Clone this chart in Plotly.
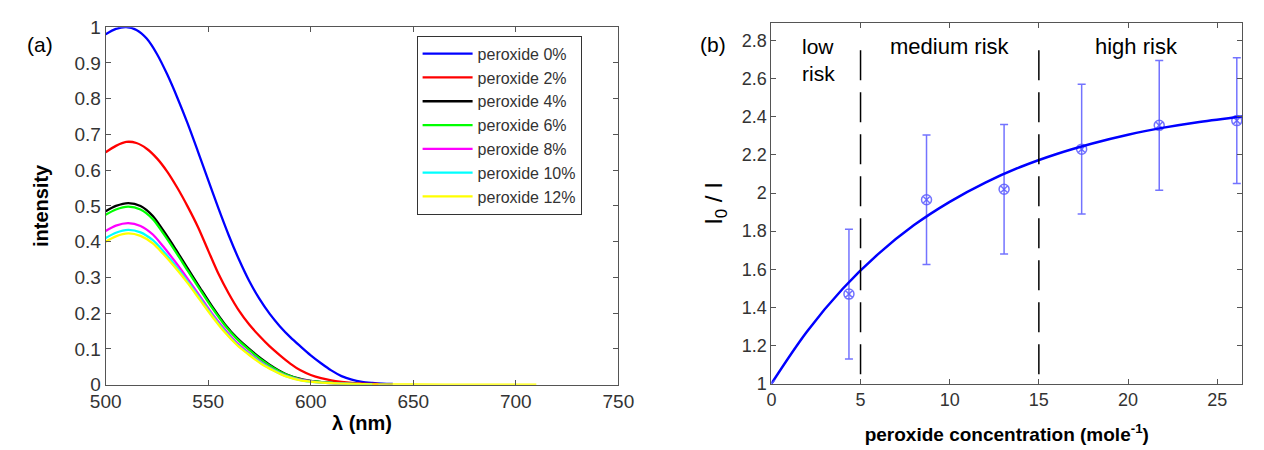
import plotly.graph_objects as go

# ---------------- panel (a) data ----------------
lam_blue = [500, 505, 510, 515, 520, 525, 530, 535, 540, 545, 550, 555, 560, 565, 570, 575, 580, 585, 590, 595, 600, 605, 610, 615, 620, 625, 630, 635, 640]
int_blue = [0.98, 0.995, 1.0, 0.992, 0.968, 0.925, 0.868, 0.802, 0.73, 0.652, 0.572, 0.493, 0.418, 0.35, 0.29, 0.24, 0.198, 0.163, 0.133, 0.107, 0.082, 0.06, 0.04, 0.024, 0.014, 0.008, 0.005, 0.003, 0.002]

lam_red = [500, 505, 510, 515, 520, 525, 530, 535, 540, 545, 550, 555, 560, 565, 570, 575, 580, 585, 590, 595, 600, 605, 610, 615, 620, 625, 633]
int_red = [0.65, 0.668, 0.679, 0.676, 0.66, 0.633, 0.596, 0.55, 0.498, 0.441, 0.375, 0.31, 0.255, 0.207, 0.168, 0.136, 0.107, 0.082, 0.059, 0.04, 0.027, 0.018, 0.012, 0.008, 0.005, 0.003, 0.002]

lam_low = [500, 505, 511, 517, 523, 528, 534, 540, 546, 552, 558, 564, 570, 576, 582, 588, 595, 602, 610, 620, 630]
int_black = [0.485, 0.500, 0.508, 0.500, 0.472, 0.432, 0.380, 0.325, 0.271, 0.218, 0.170, 0.131, 0.100, 0.072, 0.048, 0.029, 0.016, 0.009, 0.005, 0.002, 0.001]
int_green = [0.475, 0.490, 0.498, 0.490, 0.463, 0.424, 0.373, 0.319, 0.266, 0.214, 0.167, 0.128, 0.097, 0.069, 0.046, 0.028, 0.015, 0.009, 0.005, 0.002, 0.001]
int_magenta = [0.430, 0.445, 0.452, 0.444, 0.420, 0.387, 0.343, 0.296, 0.247, 0.198, 0.155, 0.117, 0.088, 0.062, 0.041, 0.025, 0.014, 0.008, 0.004, 0.002, 0.001]
int_cyan = [0.410, 0.425, 0.433, 0.426, 0.404, 0.374, 0.333, 0.288, 0.241, 0.193, 0.150, 0.113, 0.085, 0.060, 0.040, 0.024, 0.013, 0.007, 0.004, 0.002, 0.001]
lam_yellow = [500, 505, 511, 517, 523, 528, 534, 540, 546, 552, 558, 564, 570, 576, 582, 588, 595, 602, 610, 620, 630, 650, 680, 710]
int_yellow = [0.400, 0.415, 0.423, 0.416, 0.395, 0.366, 0.327, 0.284, 0.237, 0.190, 0.147, 0.111, 0.083, 0.058, 0.039, 0.023, 0.012, 0.007, 0.004, 0.002, 0.001, 0.0005, 0.0, 0.0]

series_names = ["peroxide 0%", "peroxide 2%", "peroxide 4%", "peroxide 6%", "peroxide 8%", "peroxide 10%", "peroxide 12%"]
series_colors = ["#0000ff", "#ff0000", "#000000", "#00ff00", "#ff00ff", "#00ffff", "#ffff00"]

a_xticks = [500, 550, 600, 650, 700, 750]
a_yticks = [0, 0.1, 0.2, 0.3, 0.4, 0.5, 0.6, 0.7, 0.8, 0.9, 1]
a_yticktext = ["0", "0.1", "0.2", "0.3", "0.4", "0.5", "0.6", "0.7", "0.8", "0.9", "1"]

# ---------------- panel (b) data ----------------
conc_pts = [4.35, 8.7, 13.05, 17.4, 21.75, 26.1]
ratio_pts = [1.47, 1.965, 2.02, 2.23, 2.355, 2.38]
ratio_err = [0.34, 0.34, 0.34, 0.34, 0.34, 0.33]

conc_fit = [0, 2, 4, 6, 8, 10, 12, 14, 16, 18, 20, 22, 24, 26.4]
ratio_fit = [1.0, 1.274, 1.498, 1.681, 1.832, 1.954, 2.055, 2.138, 2.205, 2.260, 2.306, 2.343, 2.373, 2.402]

risk_bounds = [5, 15]
b_xticks = [0, 5, 10, 15, 20, 25]
b_yticks = [1, 1.2, 1.4, 1.6, 1.8, 2, 2.2, 2.4, 2.6, 2.8]
b_yticktext = ["1", "1.2", "1.4", "1.6", "1.8", "2", "2.2", "2.4", "2.6", "2.8"]

W, H = 1264, 450
FONT = "Liberation Sans, Arial, sans-serif"
TICKCOL = "#333333"
AXCOL = "#555555"

fig = go.Figure()

xs = [lam_blue, lam_red, lam_low, lam_low, lam_low, lam_low, lam_yellow]
ys = [int_blue, int_red, int_black, int_green, int_magenta, int_cyan, int_yellow]
for x, y, n, c in zip(xs, ys, series_names, series_colors):
    fig.add_trace(go.Scatter(x=x, y=y, name=n, mode="lines", line=dict(color=c, width=2.3, shape="spline", smoothing=0.8),
                             xaxis="x", yaxis="y"))

# panel b
ebcol = "rgba(90,90,255,0.85)"
fig.add_trace(go.Scatter(x=conc_pts, y=ratio_pts, mode="markers", showlegend=False,
                         marker=dict(symbol="circle-x-open", size=10, color=ebcol, line=dict(width=1.5, color=ebcol)),
                         error_y=dict(type="data", array=ratio_err, color=ebcol, thickness=1.5, width=4),
                         xaxis="x2", yaxis="y2"))
fig.add_trace(go.Scatter(x=conc_fit, y=ratio_fit, mode="lines", showlegend=False,
                         line=dict(color="#0000ff", width=2.5, shape="spline"), xaxis="x2", yaxis="y2"))
fig.add_trace(go.Scatter(x=[conc_fit[0]], y=[ratio_fit[0]], mode="markers", showlegend=False,
                         marker=dict(symbol="x-thin-open", size=7, color=ebcol, line=dict(width=1.5, color=ebcol)),
                         xaxis="x2", yaxis="y2"))

for xb in risk_bounds:
    fig.add_shape(type="line", xref="x2", yref="y2", x0=xb, x1=xb, y0=1.05, y1=2.78,
                  line=dict(color="black", width=1.5, dash="30px,12px"))

def px(xp):
    return xp / W

def py(yp):
    return 1 - yp / H

common_ax = dict(showline=True, linecolor=AXCOL, linewidth=1, mirror="allticks", ticks="inside", ticklen=5,
                 tickcolor=AXCOL, showgrid=False, zeroline=False,
                 tickfont=dict(family=FONT, size=19, color=TICKCOL))

fig.update_layout(
    width=W, height=H, margin=dict(l=0, r=0, t=0, b=0),
    paper_bgcolor="white", plot_bgcolor="white",
    font=dict(family=FONT, color="black"),
    showlegend=True,
    legend=dict(x=px(411), y=py(27), xanchor="left", yanchor="top", bgcolor="white",
                bordercolor="#333333", borderwidth=1, font=dict(family=FONT, size=16, color="#333333"),
                tracegroupgap=0, itemwidth=50),
    xaxis=dict(domain=[px(92), px(618)], range=[500, 750], tickvals=a_xticks, anchor="y",
               title=dict(text="<b>λ (nm)</b>", font=dict(family=FONT, size=20), standoff=4), **common_ax),
    yaxis=dict(domain=[py(393), py(18)], range=[0, 1], tickvals=a_yticks, ticktext=a_yticktext, anchor="x",
               title=dict(text="<b>intensity</b>", font=dict(family=FONT, size=20), standoff=20), **common_ax),
    xaxis2=dict(domain=[px(775), px(1258)], range=[0, 26.4], tickvals=b_xticks, anchor="y2",
                title=dict(text="<b>peroxide concentration (mole<sup>-1</sup>)</b>", font=dict(family=FONT, size=19), standoff=18),
                **common_ax),
    yaxis2=dict(domain=[py(392), py(14)], range=[1, 2.89], tickvals=b_yticks, ticktext=b_yticktext, anchor="x2",
                title=dict(text="I<sub>0</sub> / I", font=dict(family=FONT, size=24), standoff=12), **common_ax),
)
fig.update_layout(xaxis2_tickfont_size=18, yaxis2_tickfont_size=18)

annos = [
    dict(text="(a)", x=px(25), y=py(36), xref="paper", yref="paper", font=dict(size=21)),
    dict(text="(b)", x=px(715), y=py(36), xref="paper", yref="paper", font=dict(size=21)),
    dict(text="low<br>risk", x=2.67, y=2.70, xref="x2", yref="y2", font=dict(size=21), align="left"),
    dict(text="medium risk", x=10, y=2.77, xref="x2", yref="y2", font=dict(size=22)),
    dict(text="high risk", x=20.45, y=2.77, xref="x2", yref="y2", font=dict(size=22)),
]
for a in annos:
    fig.add_annotation(showarrow=False, xanchor="center", yanchor="middle", **a)

fig.write_html("out.html")
